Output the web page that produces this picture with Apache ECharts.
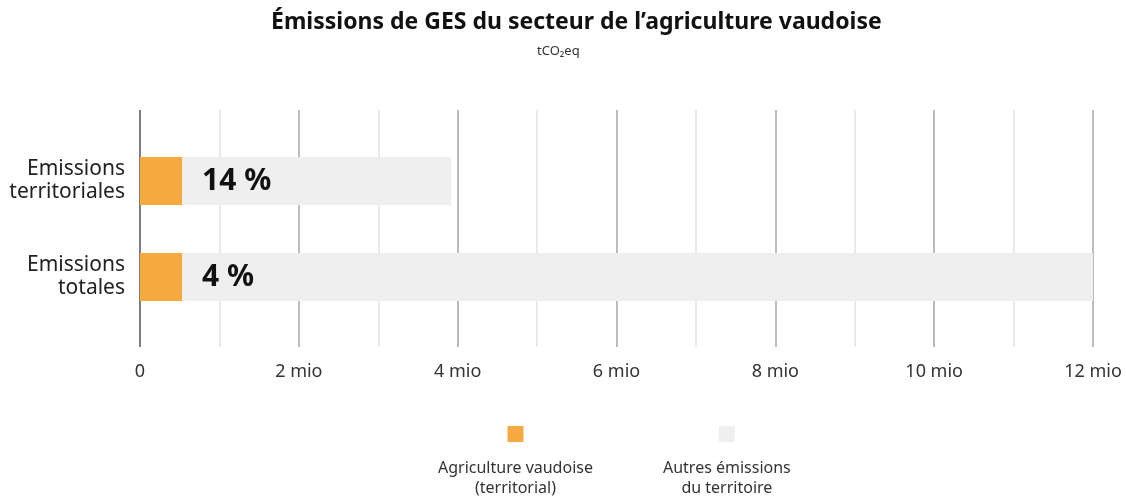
<!DOCTYPE html>
<html>
<head>
<meta charset="utf-8">
<script src="https://cdn.jsdelivr.net/npm/echarts@6/dist/echarts.min.js"></script>
<style>
  html, body { margin: 0; padding: 0; background: #fff; }
  #chart { width: 1126px; height: 497px; }
</style>
</head>
<body>
<div id="chart"></div>
<script>
// données (tCO2eq)
var categories = ['Emissions\nterritoriales', 'Emissions\ntotales'];
var agriculture = [530000, 530000];
var autres = [3390000, 11490000];
var xTicks = [0, 2000000, 4000000, 6000000, 8000000, 10000000, 12000000];
var seriesNames = ['Agriculture vaudoise\n(territorial)', 'Autres émissions\ndu territoire'];

var FONT = '"Noto Sans", "Open Sans", sans-serif';

// part de l'agriculture dans chaque total
var parts = agriculture.map(function (v, i) {
    return Math.round(v / (v + autres[i]) * 100) + ' %';
});

// couleurs des lignes verticales : axe 0 foncé, millions pairs gris, impairs clairs
var lineColors = [];
for (var i = 0; i <= 12; i++) {
    lineColors.push(i === 0 ? '#555555' : (i % 2 === 0 ? '#a6a6a6' : '#e2e2e2'));
}

var myChart = echarts.init(document.getElementById('chart'));

var option = {
    backgroundColor: '#ffffff',
    textStyle: { fontFamily: FONT },
    title: [
        {
            text: 'Émissions de GES du secteur de l’agriculture vaudoise',
            left: 266,
            top: 6,
            textStyle: { fontSize: 23, fontWeight: 'bold', color: '#111', fontFamily: FONT }
        },
        {
            text: 'tCO₂eq',
            left: 532,
            top: 40,
            textStyle: { fontSize: 13, fontWeight: 'normal', color: '#333', fontFamily: FONT }
        }
    ],
    legend: {
        top: 421,
        left: 428,
        itemGap: 65,
        itemWidth: 0,
        itemHeight: 0,
        selectedMode: false,
        data: seriesNames,
        formatter: function (name) {
            var idx = seriesNames.indexOf(name);
            var lines = name.split('\n');
            return '{sq' + idx + '|}\n{gap|}\n{t|' + lines[0] + '}\n{t|' + lines[1] + '}';
        },
        textStyle: {
            rich: {
                sq0: { backgroundColor: '#f5a93f', width: 16, height: 16, align: 'center' },
                sq1: { backgroundColor: '#efefef', width: 16, height: 16, align: 'center' },
                gap: { height: 16 },
                t: { fontSize: 16, lineHeight: 20, color: '#333', align: 'center', fontFamily: FONT }
            }
        }
    },
    grid: [
        // grille des lignes verticales
        { left: 140, right: 33, top: 110, bottom: 150 },
        // grille des barres
        { left: 140, right: 33, top: 133, bottom: 172 }
    ],
    xAxis: [
        {
            gridIndex: 0,
            type: 'value',
            min: 0,
            max: 12000000,
            interval: 1000000,
            axisLine: { show: false },
            axisTick: { show: false },
            axisLabel: {
                margin: 16,
                fontSize: 18,
                color: '#333',
                fontFamily: FONT,
                formatter: function (v) {
                    if (xTicks.indexOf(v) < 0) return '';
                    return v === 0 ? '0' : (v / 1000000) + ' mio';
                }
            },
            splitLine: {
                show: true,
                lineStyle: { color: lineColors, width: 1.5 }
            }
        },
        {
            gridIndex: 1,
            type: 'value',
            min: 0,
            max: 12000000,
            show: false
        }
    ],
    yAxis: [
        { gridIndex: 0, type: 'value', show: false },
        {
            gridIndex: 1,
            type: 'category',
            inverse: true,
            data: categories,
            axisLine: { show: false },
            axisTick: { show: false },
            axisLabel: {
                margin: 15,
                fontSize: 21,
                lineHeight: 23,
                color: '#222',
                align: 'right',
                fontFamily: FONT
            }
        }
    ],
    series: [
        {
            name: seriesNames[0],
            type: 'bar',
            stack: 'total',
            xAxisIndex: 1,
            yAxisIndex: 1,
            barWidth: 48,
            itemStyle: { color: '#f5a93f' },
            data: agriculture
        },
        {
            name: seriesNames[1],
            type: 'bar',
            stack: 'total',
            xAxisIndex: 1,
            yAxisIndex: 1,
            barWidth: 48,
            itemStyle: { color: '#efefef' },
            label: {
                show: true,
                position: 'insideLeft',
                distance: 20,
                fontSize: 30,
                fontWeight: 'bold',
                color: '#111',
                fontFamily: FONT,
                formatter: function (p) { return parts[p.dataIndex]; }
            },
            data: autres
        }
    ]
};

myChart.setOption(option);
</script>
</body>
</html>
